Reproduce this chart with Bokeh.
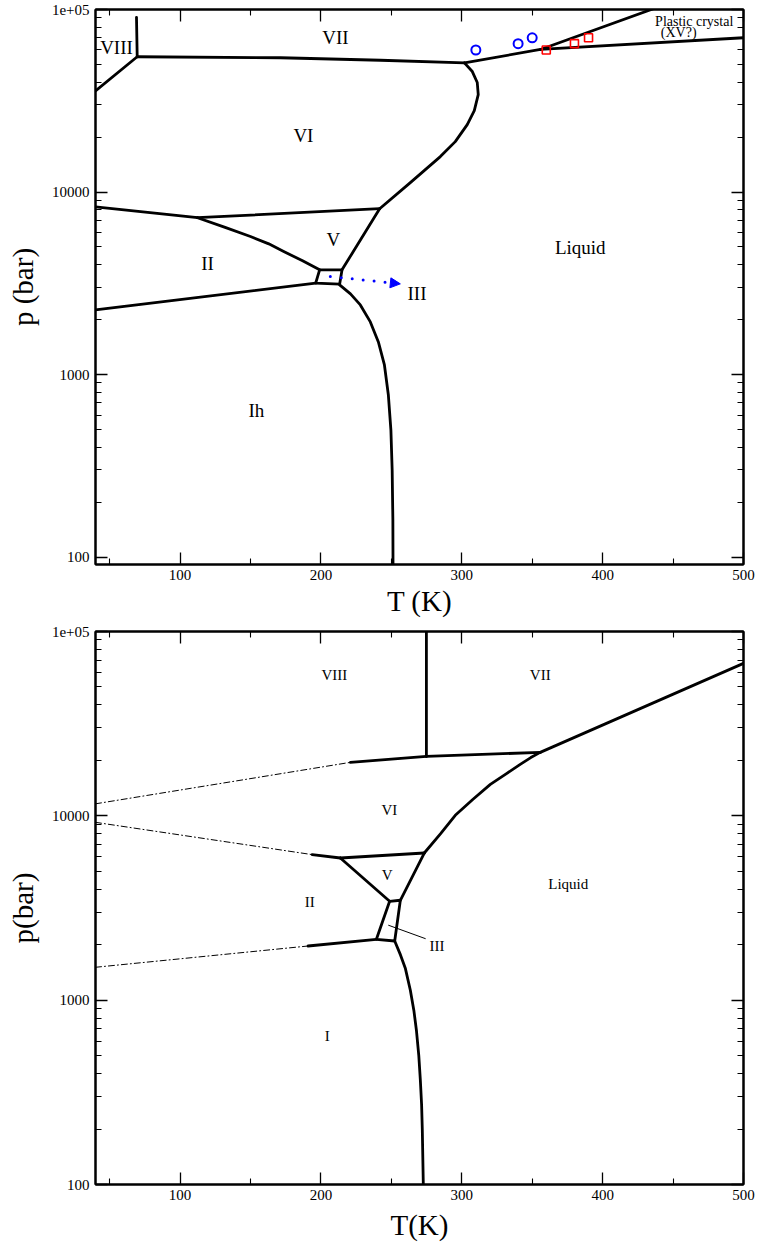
from bokeh.plotting import figure
from bokeh.models import (Range1d, FixedTicker, CustomJSTickFormatter, LinearAxis,
                          LogAxis, Arrow, NormalHead)
from bokeh.layouts import column
from bokeh.core.properties import value
from bokeh.embed import file_html
from bokeh.resources import INLINE

FONT = "Liberation Serif"

# ---------------- axis ticks ----------------
X_MAJOR = [100, 200, 300, 400, 500]
X_MINOR = [50, 150, 250, 350, 450]
Y_MAJOR = [100, 1000, 10000, 100000]
Y_MINOR = [k * 10 ** e for e in (1, 2, 3, 4) for k in range(2, 10)]

# ---------------- top panel data (T in K, p in bar) ----------------
TOP_VIII_VII_T = [69.1, 69.6]
TOP_VIII_VII_P = [90600, 55100]
TOP_VIII_VI_T = [40, 69.6]
TOP_VIII_VI_P = [35800, 55100]
TOP_VII_VI_T = [69.6, 171.3, 242.3, 301.9]
TOP_VII_VI_P = [55100, 54400, 52700, 51000]
TOP_VI_L_T = [301.9, 307.5, 311.0, 311.7, 308.9, 303.9, 295.4, 284.8, 263.5, 241.7]
TOP_VI_L_P = [51000, 45710, 39810, 34200, 27930, 23400, 18880, 15630, 11250, 8100]
TOP_II_VI_T = [40, 112.4]
TOP_II_VI_P = [8300, 7230]
TOP_V_VI_T = [112.4, 241.7]
TOP_V_VI_P = [7230, 8100]
TOP_II_V_T = [112.4, 132.0, 150.0, 163.0, 173.6, 187.0, 199.1]
TOP_II_V_P = [7230, 6400, 5705, 5200, 4720, 4200, 3745]
TOP_III_T = [199.1, 215.0, 213.3, 196.3, 199.1]
TOP_III_P = [3745, 3745, 3126, 3166, 3745]
TOP_V_L_T = [215.0, 241.7]
TOP_V_L_P = [3745, 8100]
TOP_II_IH_T = [40, 196.3]
TOP_II_IH_P = [2260, 3166]
TOP_IH_L_T = [213.3, 221.0, 228.0, 235.1, 240.8, 245.1, 247.9, 249.7, 250.6, 251.1, 251.2]
TOP_IH_L_P = [3099, 2765, 2406, 1942, 1508, 1128, 772, 496, 299, 159, 90]
TOP_VII_L_T = [301.9, 355.9, 500]
TOP_VII_L_P = [51000, 60400, 70000]
TOP_PC_T = [355.9, 436.1]
TOP_PC_P = [60400, 101000]

CIRCLE_T = [310, 340, 350]
CIRCLE_P = [60000, 65000, 70000]
SQUARE_T = [360, 380, 390]
SQUARE_P = [60000, 65000, 70000]

ARROW_T = [206.7, 256.4]
ARROW_P = [3443, 3138]

TOP_LABELS = ["VIII", "VII", "VI", "V", "II", "III", "Liquid", "Ih"]
TOP_LABEL_T = [54.9, 210.3, 187.6, 208.9, 119.5, 268.2, 384.1, 154.2]
TOP_LABEL_P = [61900, 70300, 20370, 5470, 4042, 2791, 4946, 638]
TOP_SMALL_LABELS = ["Plastic crystal", "(XV?)"]
TOP_SMALL_T = [465, 454]
TOP_SMALL_P = [86300, 74600]

# ---------------- bottom panel data ----------------
BOT_VIII_VII_T = [274.9, 274.9]
BOT_VIII_VII_P = [100000, 21020]
BOT_VIII_VI_T = [220.9, 274.9]
BOT_VIII_VI_P = [19500, 21020]
BOT_VIII_VI_EXT_T = [40, 220.9]
BOT_VIII_VI_EXT_P = [11620, 19500]
BOT_VII_VI_T = [274.9, 355.7]
BOT_VII_VI_P = [21020, 22090]
BOT_VII_L_T = [355.7, 500]
BOT_VII_L_P = [22090, 67140]
BOT_VI_L_T = [273.4, 285.0, 295.4, 308.0, 320.3, 331.5, 341.5, 349.0, 355.7]
BOT_VI_L_P = [6285, 8000, 10070, 12300, 14820, 16900, 19030, 20700, 22090]
BOT_II_VI_T = [193.8, 213.8]
BOT_II_VI_P = [6160, 5905]
BOT_II_VI_EXT_T = [40, 193.8]
BOT_II_VI_EXT_P = [9220, 6160]
BOT_VI_V_T = [213.8, 273.4]
BOT_VI_V_P = [5905, 6285]
BOT_II_V_T = [213.8, 248.8]
BOT_II_V_P = [5905, 3438]
BOT_V_L_T = [273.4, 256.4]
BOT_V_L_P = [6285, 3483]
BOT_III_T = [248.8, 256.4, 252.4, 239.4, 248.8]
BOT_III_P = [3438, 3483, 2094, 2139, 3438]
BOT_II_I_T = [190.9, 239.4]
BOT_II_I_P = [1967, 2139]
BOT_II_I_EXT_T = [40, 190.9]
BOT_II_I_EXT_P = [1508, 1967]
BOT_I_L_T = [252.4, 256.5, 260.0, 263.5, 266.0, 267.8, 269.5, 270.6, 271.5, 272.0, 272.7]
BOT_I_L_P = [2094, 1760, 1484, 1131, 880, 687, 500, 368, 270, 197, 100]
BOT_LEADER_T = [248.1, 274.1]
BOT_LEADER_P = [2548, 2158]

BOT_LABELS = ["VIII", "VII", "VI", "V", "II", "Liquid", "I", "III"]
BOT_LABEL_T = [209.6, 355.7, 248.6, 247.0, 192.1, 375.6, 204.6, 282.4]
BOT_LABEL_P = [57800, 57800, 10710, 4757, 3408, 4252, 637, 1960]

LW = 2.8


def make_fig(height, ymin, min_top, min_bottom, xlabel, ylabel, xl_standoff):
    p = figure(width=757, height=height, x_range=Range1d(40, 500),
               y_range=Range1d(ymin, 100000), y_axis_type="log",
               output_backend="svg", toolbar_location=None,
               min_border_left=95, min_border_right=14,
               min_border_top=min_top, min_border_bottom=min_bottom)
    p.grid.visible = False
    p.outline_line_color = "black"
    p.outline_line_width = 2
    p.outline_line_alpha = 1
    p.background_fill_color = "white"
    p.border_fill_color = "white"

    xt = FixedTicker(ticks=X_MAJOR, minor_ticks=X_MINOR)
    yt = FixedTicker(ticks=Y_MAJOR, minor_ticks=Y_MINOR)

    def style(ax):
        ax.major_tick_in = 12
        ax.major_tick_out = 0
        ax.minor_tick_in = 6
        ax.minor_tick_out = 0
        ax.major_tick_line_width = 1.3
        ax.minor_tick_line_width = 1.1
        ax.major_tick_line_color = "black"
        ax.minor_tick_line_color = "black"
        ax.axis_line_width = 2
        ax.axis_line_color = "black"
        ax.major_label_text_font = FONT
        ax.major_label_text_font_size = "15px"
        ax.major_label_text_color = "black"
        ax.axis_label_text_font = FONT
        ax.axis_label_text_font_style = "normal"
        ax.axis_label_text_font_size = "29px"
        ax.axis_label_text_color = "black"

    xa = p.xaxis[0]
    xa.ticker = xt
    style(xa)
    xa.major_label_standoff = 5
    xa.axis_label = xlabel
    xa.axis_label_standoff = xl_standoff

    ya = p.yaxis[0]
    ya.ticker = yt
    ya.formatter = CustomJSTickFormatter(
        code="const v = Math.round(tick); return v >= 100000 ? '1e+05' : v.toString();")
    style(ya)
    ya.major_label_standoff = 6
    ya.axis_label = ylabel
    ya.axis_label_standoff = 10

    blank = "return '';"
    top_ax = LinearAxis(ticker=xt, formatter=CustomJSTickFormatter(code=blank))
    style(top_ax)
    top_ax.major_label_text_font_size = "0px"
    top_ax.major_label_standoff = 0
    p.add_layout(top_ax, "above")

    right_ax = LogAxis(ticker=yt, formatter=CustomJSTickFormatter(code=blank))
    style(right_ax)
    right_ax.major_label_text_font_size = "0px"
    right_ax.major_label_standoff = 0
    p.add_layout(right_ax, "right")
    return p


def lines(p, pairs, width=LW, dash="solid"):
    for t, pr in pairs:
        p.line(t, pr, line_color="black", line_width=width, line_dash=dash,
               line_join="round", line_cap="round")


# ---------------- top figure ----------------
top = make_fig(622, 91, 9, 58, "T (K)", "p (bar)", 2)
lines(top, [
    (TOP_VIII_VII_T, TOP_VIII_VII_P), (TOP_VIII_VI_T, TOP_VIII_VI_P),
    (TOP_VII_VI_T, TOP_VII_VI_P), (TOP_VI_L_T, TOP_VI_L_P),
    (TOP_II_VI_T, TOP_II_VI_P), (TOP_V_VI_T, TOP_V_VI_P),
    (TOP_II_V_T, TOP_II_V_P), (TOP_III_T, TOP_III_P),
    (TOP_V_L_T, TOP_V_L_P), (TOP_II_IH_T, TOP_II_IH_P),
    (TOP_IH_L_T, TOP_IH_L_P), (TOP_VII_L_T, TOP_VII_L_P),
    (TOP_PC_T, TOP_PC_P),
])
top.scatter(CIRCLE_T, CIRCLE_P, marker="circle", size=9, fill_color=None,
            line_color="blue", line_width=2)
top.scatter(SQUARE_T, SQUARE_P, marker="square", size=8, fill_color=None,
            line_color="red", line_width=1.6)
top.add_layout(Arrow(end=NormalHead(size=10, fill_color="blue", line_color="blue",
                                    line_width=1),
                     x_start=ARROW_T[0], y_start=ARROW_P[0],
                     x_end=ARROW_T[1], y_end=ARROW_P[1],
                     line_color="blue", line_width=3, line_dash="0 11",
                     line_cap="round"))
top.text(x=TOP_LABEL_T, y=TOP_LABEL_P, text=TOP_LABELS, text_font=value(FONT),
         text_font_size=value("19px"), text_align="center",
         text_baseline="middle", text_color="black")
top.text(x=TOP_SMALL_T, y=TOP_SMALL_P, text=TOP_SMALL_LABELS, text_font=value(FONT),
         text_font_size=value("14px"), text_align="center",
         text_baseline="middle", text_color="black")

# ---------------- bottom figure ----------------
bot = make_fig(622, 100, 9, 60, "T(K)", "p(bar)", 6)
lines(bot, [
    (BOT_VIII_VII_T, BOT_VIII_VII_P), (BOT_VIII_VI_T, BOT_VIII_VI_P),
    (BOT_VII_VI_T, BOT_VII_VI_P), (BOT_VII_L_T, BOT_VII_L_P),
    (BOT_VI_L_T, BOT_VI_L_P), (BOT_II_VI_T, BOT_II_VI_P),
    (BOT_VI_V_T, BOT_VI_V_P), (BOT_II_V_T, BOT_II_V_P),
    (BOT_V_L_T, BOT_V_L_P), (BOT_III_T, BOT_III_P),
    (BOT_II_I_T, BOT_II_I_P), (BOT_I_L_T, BOT_I_L_P),
])
lines(bot, [(BOT_VIII_VI_EXT_T, BOT_VIII_VI_EXT_P),
            (BOT_II_VI_EXT_T, BOT_II_VI_EXT_P),
            (BOT_II_I_EXT_T, BOT_II_I_EXT_P)], width=1, dash="6 3 1 3")
lines(bot, [(BOT_LEADER_T, BOT_LEADER_P)], width=1)
bot.text(x=BOT_LABEL_T, y=BOT_LABEL_P, text=BOT_LABELS, text_font=value(FONT),
         text_font_size=value("15px"), text_align="center",
         text_baseline="middle", text_color="black")

layout = column(top, bot, spacing=0)
open("out.html", "w").write(file_html(layout, INLINE))
